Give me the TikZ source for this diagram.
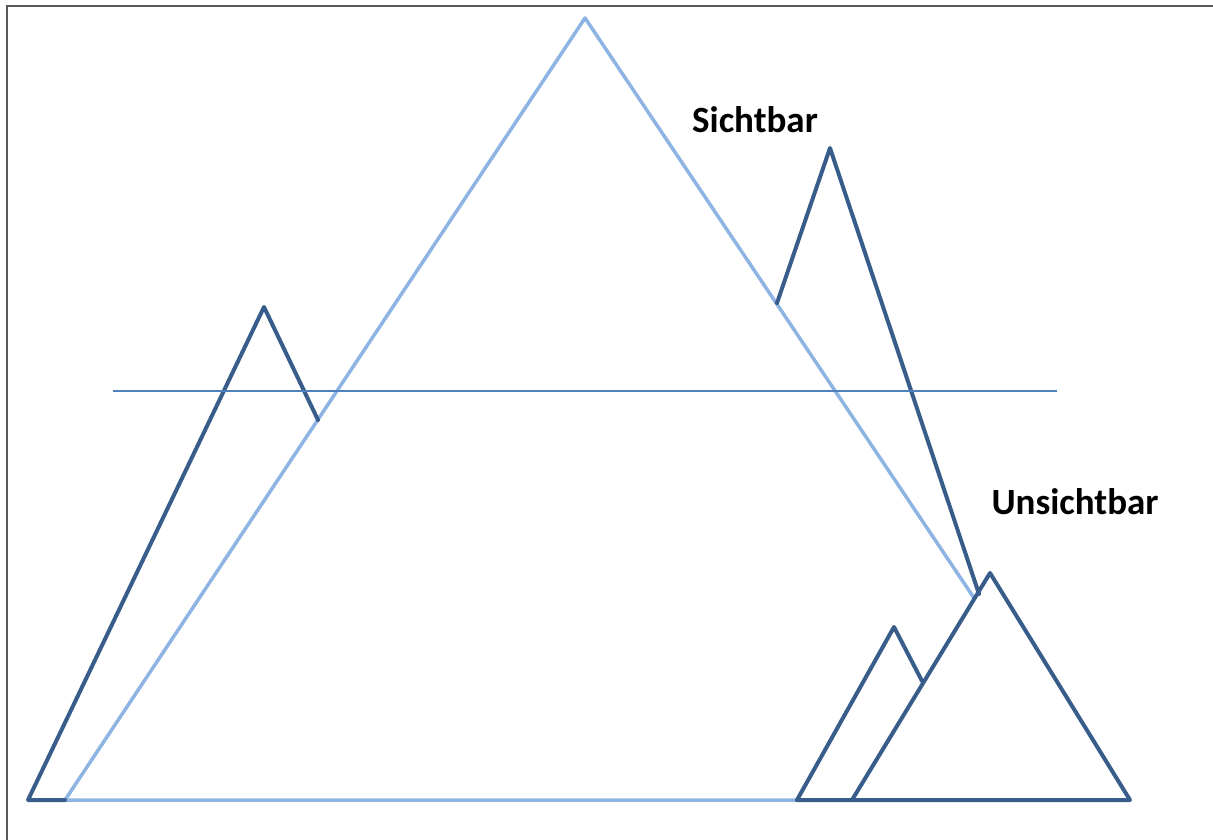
\documentclass[tikz,border=0pt]{standalone}
\usepackage{fontspec}
\setmainfont{Carlito}
\definecolor{darkb}{HTML}{385D8A}
\definecolor{lightb}{HTML}{8EB4E3}
\definecolor{midb}{HTML}{4F81BD}
\definecolor{frame}{HTML}{595959}
\begin{document}
\begin{tikzpicture}[x=1pt,y=-1pt,
  dark/.style={draw=darkb,line width=4pt,line join=round,line cap=round},
  light/.style={draw=lightb,line width=3.5pt,line join=round},
  lbl/.style={font=\bfseries\fontsize{37}{40}\selectfont,text=black,inner sep=0pt}]
\useasboundingbox (0,0) rectangle (1213,840);
% frame
\coordinate (f1) at (7,840);
\coordinate (f2) at (7,6);
\coordinate (f3) at (1213,6);
\draw[frame,line width=2.2pt] (f1) -- (f2) -- (f3);
% points
\coordinate (A) at (585,18);
\coordinate (BL) at (65,800);
\coordinate (BR) at (797,800);
\coordinate (Aend) at (974,598);
\coordinate (L1) at (28,800);
\coordinate (L2) at (264,307);
\coordinate (L3) at (318,420);
\coordinate (T1) at (777,303);
\coordinate (T2) at (830,148);
\coordinate (T3) at (979,594);
\coordinate (R1) at (852,800);
\coordinate (R2) at (990,573);
\coordinate (R3) at (1130,800);
\coordinate (S2) at (894,627);
\coordinate (S3) at (922,681);
\coordinate (H1) at (113,391);
\coordinate (H2) at (1057,391);
% big light mountain
\draw[light] (Aend) -- (A) -- (BL) -- (BR);
% dark mountains
\draw[dark] (L3) -- (L2) -- (L1) -- (BL);
\draw[dark] (T1) -- (T2) -- (T3);
\draw[dark] (BR) -- (R3) -- (R2) -- (R1);
\draw[dark] (BR) -- (S2) -- (S3);
% horizon
\draw[midb,line width=1.6pt] (H1) -- (H2);
% labels
\node[lbl] (sicht) at (755,120) {Sichtbar};
\node[lbl] (unsicht) at (1075,502) {Unsichtbar};
\end{tikzpicture}
\end{document}
